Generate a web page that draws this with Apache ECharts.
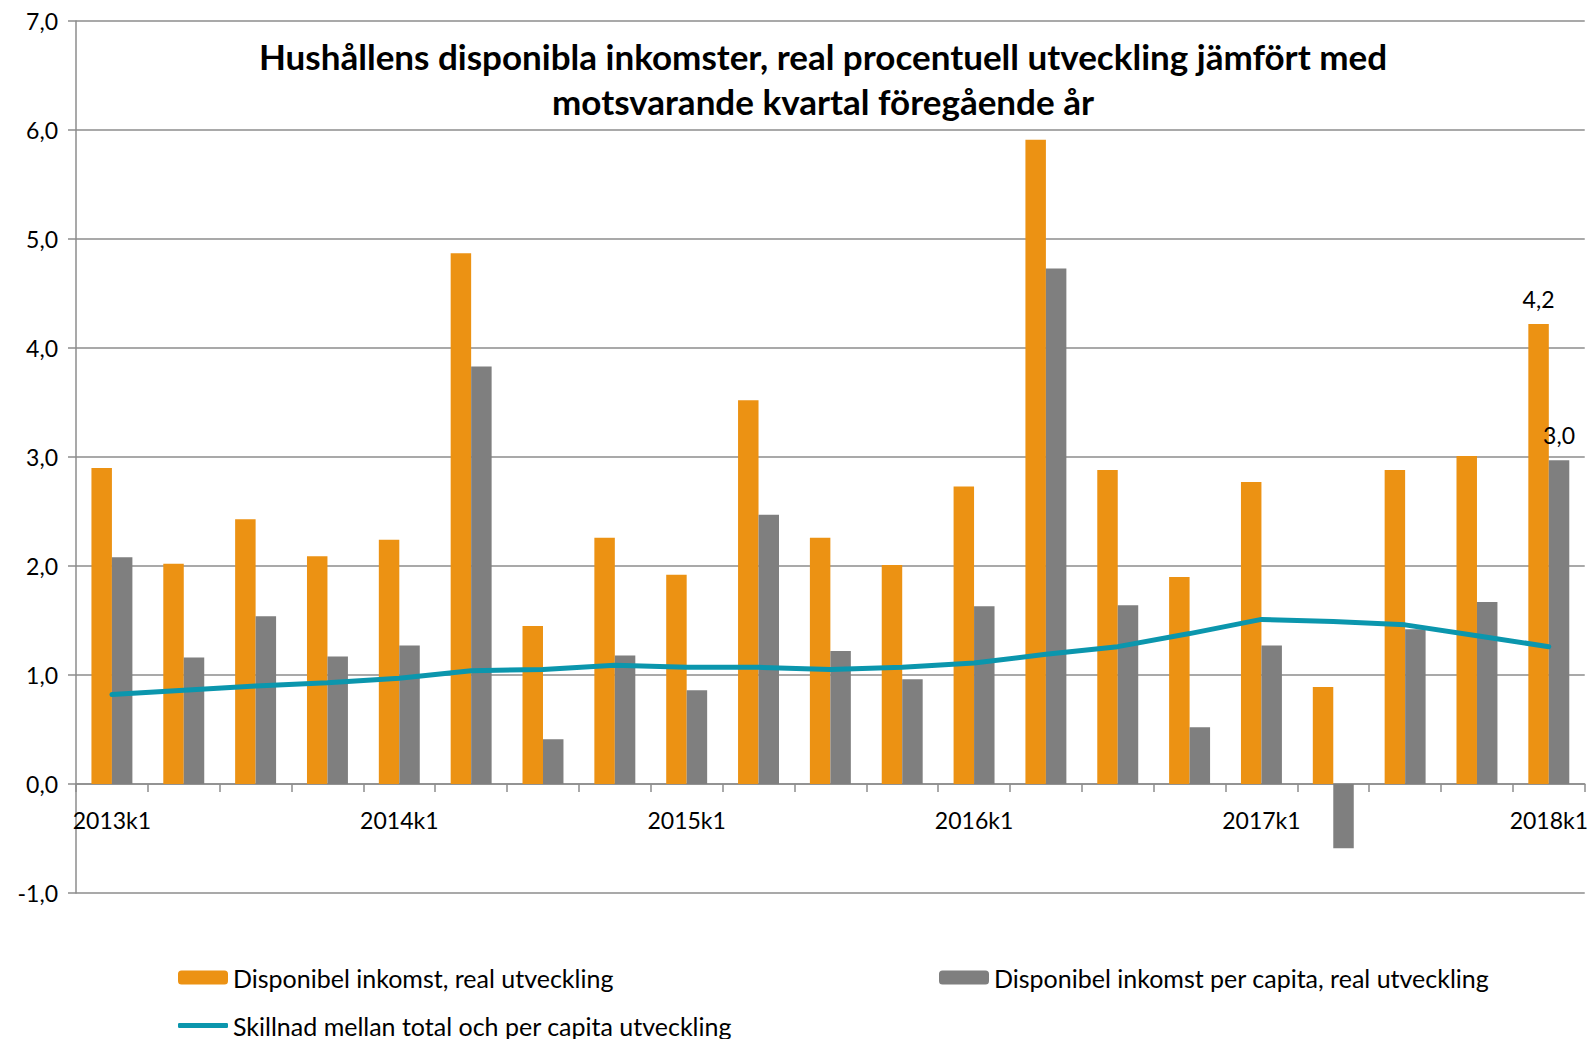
<!DOCTYPE html>
<html>
<head>
<meta charset="utf-8">
<script src="https://cdn.jsdelivr.net/npm/echarts@6/dist/echarts.min.js"></script>
<style>
html,body{margin:0;padding:0;background:#fff;}
#chart{width:1591px;height:1039px;}
</style>
</head>
<body>
<div id="chart"></div>
<script>
const categories = ['2013k1','2013k2','2013k3','2013k4','2014k1','2014k2','2014k3','2014k4','2015k1','2015k2','2015k3','2015k4','2016k1','2016k2','2016k3','2016k4','2017k1','2017k2','2017k3','2017k4','2018k1'];
const incomeReal = [2.90,2.02,2.43,2.09,2.24,4.87,1.45,2.26,1.92,3.52,2.26,2.01,2.73,5.91,2.88,1.90,2.77,0.89,2.88,3.01,4.22];
const incomePerCapita = [2.08,1.16,1.54,1.17,1.27,3.83,0.41,1.18,0.86,2.47,1.22,0.96,1.63,4.73,1.64,0.52,1.27,-0.59,1.42,1.67,2.97];
const difference = [0.82,0.86,0.90,0.93,0.97,1.04,1.05,1.09,1.07,1.07,1.05,1.07,1.11,1.19,1.26,1.38,1.51,1.49,1.46,1.36,1.26];
const seriesNames = ['Disponibel inkomst, real utveckling','Disponibel inkomst per capita, real utveckling','Skillnad mellan total och per capita utveckling'];
const titleLines = ['Hushållens disponibla inkomster, real procentuell utveckling jämfört med','motsvarande kvartal föregående år'];

const FONT = 'Lato';
const fmt = v => (typeof v === 'number' ? v : v.value).toFixed(1).replace('.', ',');
const lastLabel = arr => arr.map((v, i) => i === arr.length - 1 ? {value: v, label: {show: true}} : v);
const axisGray = '#8c8c8c';
const legendText = {fontSize: 25, color: '#000', fontFamily: FONT};

const chart = echarts.init(document.getElementById('chart'), null, {renderer: 'svg'});
chart.setOption({
  animation: false,
  backgroundColor: '#ffffff',
  textStyle: {fontFamily: FONT},
  grid: {left: 76, right: 6, top: 21, bottom: 146, containLabel: false},
  graphic: titleLines.map((t, i) => ({
    type: 'text', x: 823, y: 56 + i * 45,
    style: {text: t, textAlign: 'center', textVerticalAlign: 'middle', font: 'bold 35px Lato', fill: '#000'}
  })),
  legend: [
    {data: [seriesNames[0]], left: 178, top: 965, padding: 0, itemWidth: 50, itemHeight: 14, itemGap: 0, textStyle: legendText},
    {data: [seriesNames[1]], left: 939, top: 965, padding: 0, itemWidth: 50, itemHeight: 14, itemGap: 0, textStyle: legendText},
    {data: [{name: seriesNames[2], icon: 'roundRect'}], left: 178, top: 1013, padding: 0, itemWidth: 50, itemHeight: 5, itemGap: 0, textStyle: legendText}
  ],
  xAxis: {
    type: 'category',
    data: categories,
    boundaryGap: true,
    axisLine: {onZero: true, lineStyle: {color: axisGray, width: 1.5}},
    axisTick: {show: true, interval: 0, length: 8, lineStyle: {color: axisGray, width: 1.5}},
    axisLabel: {interval: 3, margin: -85, fontSize: 23, color: '#000', fontFamily: FONT},
    splitLine: {show: false}
  },
  yAxis: {
    type: 'value',
    min: -1, max: 7, interval: 1,
    axisLine: {show: true, lineStyle: {color: axisGray, width: 1.5}},
    axisTick: {show: true, length: 8, lineStyle: {color: axisGray, width: 1.5}},
    axisLabel: {formatter: v => v.toFixed(1).replace('.', ','), margin: 18, fontSize: 23, color: '#000', fontFamily: FONT},
    splitLine: {show: true, lineStyle: {color: axisGray, width: 1.5}}
  },
  series: [
    {
      name: seriesNames[0], type: 'bar', data: lastLabel(incomeReal),
      barWidth: '28.5%', barGap: '0%',
      itemStyle: {color: '#EC9213'},
      label: {show: false, position: 'top', distance: 14, formatter: p => fmt(p.value), fontSize: 23, color: '#000', fontFamily: FONT}
    },
    {
      name: seriesNames[1], type: 'bar', data: lastLabel(incomePerCapita),
      barWidth: '28.5%', barGap: '0%',
      itemStyle: {color: '#7F7F7F'},
      label: {show: false, position: 'top', distance: 14, formatter: p => fmt(p.value), fontSize: 23, color: '#000', fontFamily: FONT}
    },
    {
      name: seriesNames[2], type: 'line', data: difference,
      symbol: 'none', z: 5,
      lineStyle: {color: '#0B96AD', width: 5, cap: 'round'},
      itemStyle: {color: '#0B96AD'}
    }
  ]
});
</script>
</body>
</html>
